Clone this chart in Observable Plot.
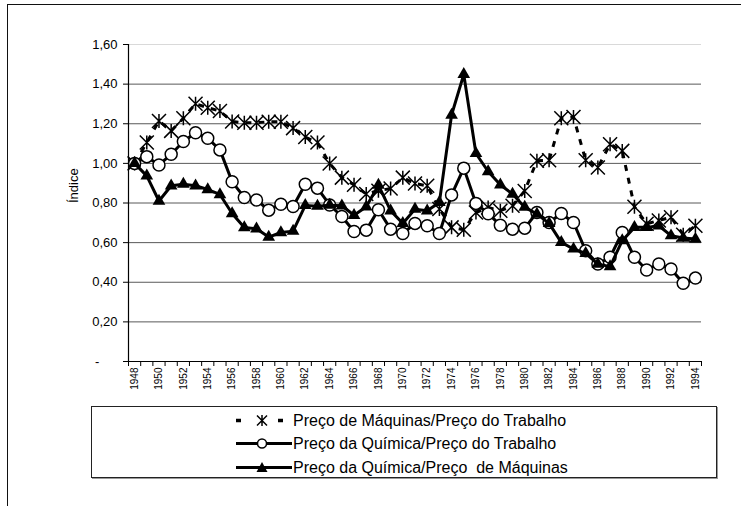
<!DOCTYPE html>
<html><head><meta charset="utf-8">
<script src="https://cdn.jsdelivr.net/npm/d3@7"></script>
<script src="https://cdn.jsdelivr.net/npm/@observablehq/plot@0.6"></script>
<style>
body{margin:0;width:741px;height:506px;overflow:hidden;background:#fff;font-family:"Liberation Sans",Arial,sans-serif;position:relative}
#chart{position:absolute;left:0;top:0}
#frame{position:absolute;left:7px;top:4px;width:800px;height:600px;border-left:1.5px solid #111;border-top:1.5px solid #111;pointer-events:none}
#legend{position:absolute;left:91px;top:406px;width:624px;height:70px;border:1px solid #222;box-shadow:1px 1px 0 #999;background:#fff}
.row{position:absolute;left:143px;height:23px;display:flex;align-items:center;white-space:pre;font-size:16px;color:#000}
.row svg{display:block}
</style></head>
<body>
<div id="chart"></div>
<div id="frame"></div>
<div id="legend"></div>
<script>
const years = [1948,1949,1950,1951,1952,1953,1954,1955,1956,1957,1958,1959,1960,1961,1962,1963,1964,1965,1966,1967,1968,1969,1970,1971,1972,1973,1974,1975,1976,1977,1978,1979,1980,1981,1982,1983,1984,1985,1986,1987,1988,1989,1990,1991,1992,1993,1994];
const yearLabels = [1948,1950,1952,1954,1956,1958,1960,1962,1964,1966,1968,1970,1972,1974,1976,1978,1980,1982,1984,1986,1988,1990,1992,1994];
const yTicks = [0,0.2,0.4,0.6,0.8,1.0,1.2,1.4,1.6];
const seriesNames = ["Preço de Máquinas/Preço do Trabalho","Preço da Química/Preço do Trabalho","Preço da Química/Preço  de Máquinas"];

const maquinasTrabalho = [1.00,1.105,1.214,1.164,1.228,1.301,1.281,1.264,1.211,1.205,1.205,1.21,1.21,1.178,1.133,1.105,0.999,0.928,0.892,0.845,0.862,0.873,0.928,0.898,0.887,0.77,0.677,0.665,0.752,0.777,0.761,0.786,0.861,1.013,1.016,1.228,1.234,1.016,0.979,1.097,1.063,0.781,0.695,0.712,0.728,0.64,0.685];
const quimicaTrabalho = [1.00,1.034,0.992,1.046,1.110,1.155,1.127,1.068,0.907,0.828,0.815,0.764,0.794,0.782,0.895,0.875,0.79,0.732,0.656,0.663,0.766,0.668,0.646,0.697,0.685,0.646,0.841,0.976,0.798,0.746,0.688,0.668,0.673,0.752,0.702,0.747,0.702,0.559,0.492,0.526,0.651,0.526,0.462,0.492,0.467,0.395,0.421];
const quimicaMaquinas = [1.00,0.937,0.81,0.887,0.895,0.887,0.868,0.843,0.747,0.676,0.67,0.628,0.651,0.658,0.788,0.784,0.789,0.786,0.738,0.781,0.89,0.761,0.697,0.769,0.761,0.803,1.244,1.449,1.05,0.959,0.892,0.845,0.779,0.744,0.697,0.601,0.568,0.546,0.492,0.479,0.61,0.677,0.677,0.685,0.635,0.623,0.618];

const rows = years.map((year, i) => ({year, mt: maquinasTrabalho[i], qt: quimicaTrabalho[i], qm: quimicaMaquinas[i]}));
const boundaries = years.map(y => y - 0.5).concat([years[years.length - 1] + 0.5]);

const star = {draw(ctx, size) {
  const r = Math.sqrt(size / Math.PI);
  ctx.moveTo(-r, -r); ctx.lineTo(r, r);
  ctx.moveTo(-r, r); ctx.lineTo(r, -r);
  ctx.moveTo(0, -r); ctx.lineTo(0, r);
}};

const fmt = d => d === 0 ? "-\u00a0\u00a0\u00a0\u00a0\u00a0" : d.toFixed(2).replace(".", ",");

const chart = Plot.plot({
  width: 741, height: 400,
  marginLeft: 128, marginRight: 40, marginTop: 44, marginBottom: 39,
  x: {domain: [1947.5, 1994.5], axis: null},
  y: {domain: [0, 1.6], axis: null},
  style: {fontFamily: "Liberation Sans, Arial, sans-serif", background: "transparent", color: "#000"},
  marks: [
    Plot.ruleY(yTicks.filter(d => d > 0 && d < 1.6), {stroke: "#595959", strokeWidth: 1}),
    Plot.ruleY([1.6], {stroke: "#d9d9d9", strokeWidth: 1}),
    Plot.ruleX([1947.5], {stroke: "#000", strokeWidth: 1.2}),
    Plot.ruleY([0], {stroke: "#000", strokeWidth: 1.2}),
    Plot.axisY({ticks: yTicks, tickSize: 5, tickPadding: 6, fontSize: 13, tickFormat: fmt, label: null}),
    Plot.axisX({ticks: boundaries, tickSize: 5, tickFormat: () => "", label: null}),
    Plot.text(yearLabels, {x: d => d, text: d => String(d), frameAnchor: "bottom", dy: 6, rotate: -90, textAnchor: "end", lineAnchor: "middle", fontSize: 10}),
    Plot.text(["Índice"], {frameAnchor: "left", dx: -55, rotate: -90, fontSize: 13}),
    Plot.line(rows, {x: "year", y: "mt", stroke: "#000", strokeWidth: 3, strokeDasharray: "6,7", strokeLinecap: "butt"}),
    Plot.dot(rows, {x: "year", y: "mt", symbol: star, r: 7, stroke: "#000", strokeWidth: 1.5, fill: "none"}),
    Plot.line(rows, {x: "year", y: "qt", stroke: "#000", strokeWidth: 3}),
    Plot.dot(rows, {x: "year", y: "qt", r: 6, fill: "#fff", stroke: "#000", strokeWidth: 1.5}),
    Plot.line(rows, {x: "year", y: "qm", stroke: "#000", strokeWidth: 3}),
    Plot.dot(rows, {x: "year", y: "qm", symbol: "triangle", r: 4.7, fill: "#000", stroke: "none"})
  ]
});
document.getElementById("chart").append(chart);

// Legend
const legend = document.getElementById("legend");
const samples = [
  `<svg width="58" height="23"><line x1="1" x2="57" y1="11.5" y2="11.5" stroke="#000" stroke-width="3.5" stroke-dasharray="5,37"/><path d="M22,6.5L32,16.5M22,16.5L32,6.5M27,6L27,17" stroke="#000" stroke-width="1.5" fill="none"/></svg>`,
  `<svg width="58" height="23"><line x1="1" x2="57" y1="11.5" y2="11.5" stroke="#000" stroke-width="3"/><circle cx="27" cy="11.5" r="4.5" fill="#fff" stroke="#000" stroke-width="1.5"/></svg>`,
  `<svg width="58" height="23"><line x1="1" x2="57" y1="11.5" y2="11.5" stroke="#000" stroke-width="3"/><path d="M27,6L32.5,16L21.5,16Z" fill="#000"/></svg>`
];
const tops = [2, 25, 49];
seriesNames.forEach((name, i) => {
  const row = document.createElement("div");
  row.className = "row";
  row.style.top = tops[i] + "px";
  row.innerHTML = samples[i];
  const span = document.createElement("span");
  span.textContent = name;
  row.append(span);
  legend.append(row);
});
</script>
</body></html>
